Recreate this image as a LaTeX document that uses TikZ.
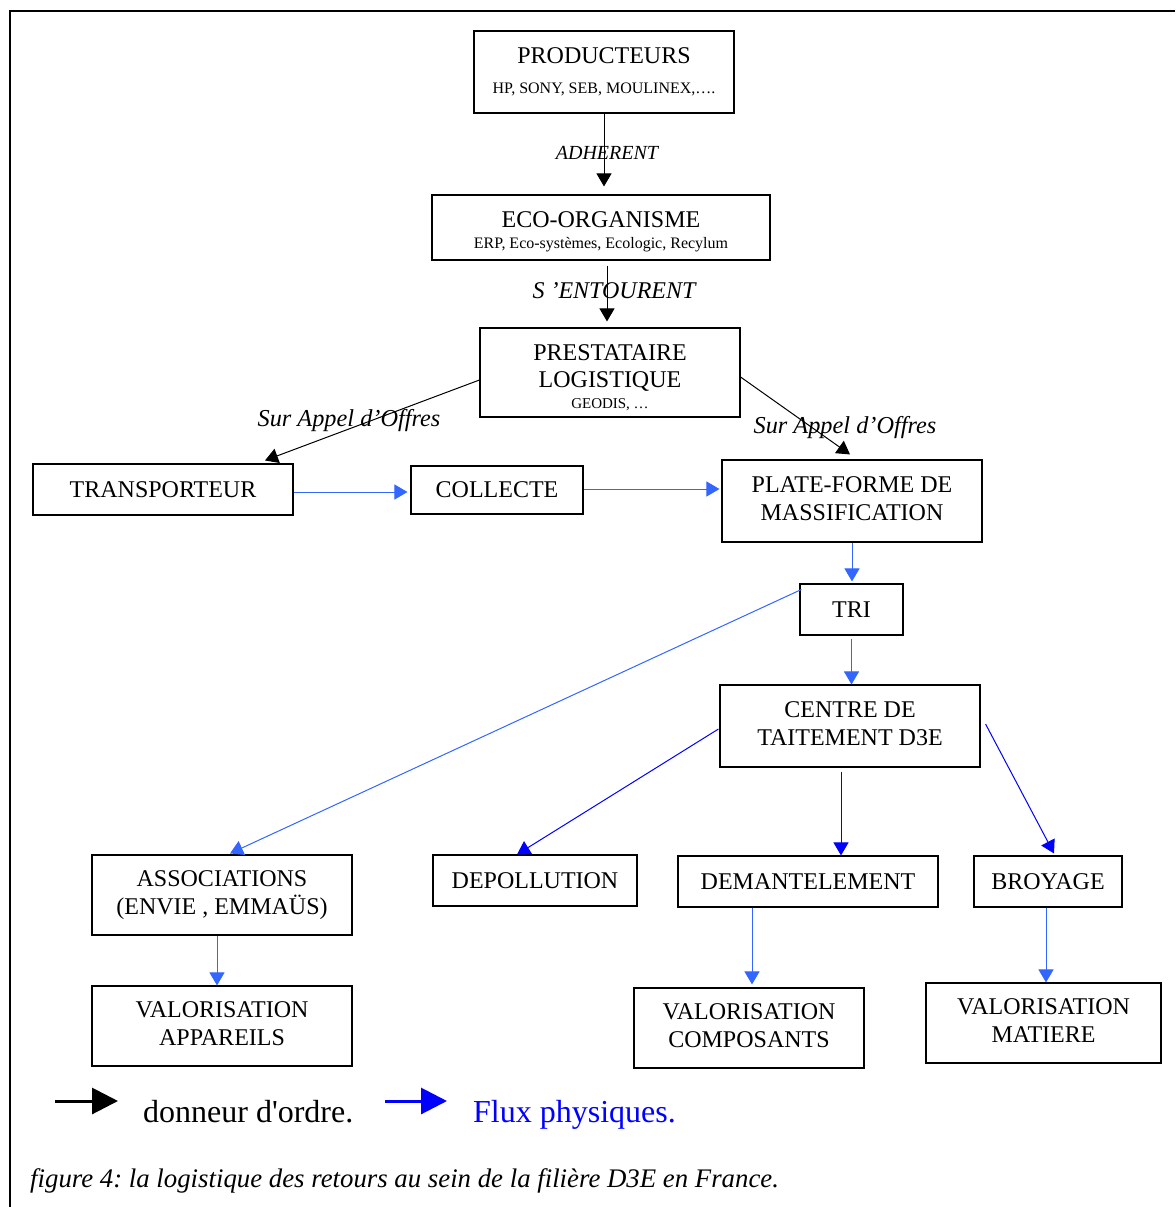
\documentclass[tikz,border=0pt]{standalone}
\usepackage{fontspec}
\setmainfont{Liberation Serif}[Ligatures=TeXOff]
\usetikzlibrary{arrows.meta,calc}
\definecolor{lblue}{HTML}{3366FF}
\definecolor{dblue}{HTML}{0000FF}
\frenchspacing
\tikzset{
  box/.style={draw, line width=1.1pt, inner sep=0pt, align=center, font=\fontsize{24}{27.5}\selectfont},
  twoline/.style={text depth=5pt},
  lab/.style={font=\itshape\fontsize{24.3}{26}\selectfont, inner sep=0pt},
  arrowbase/.style={line width=1pt, -{Triangle[length=13pt,width=15pt]}},
  blk/.style={arrowbase, color=black},
  lbl/.style={arrowbase, color=lblue},
  dbl/.style={arrowbase, color=dblue},
  legarrow/.style={line width=3pt, -{Triangle[length=26pt,width=26pt]}},
}
\begin{document}
\begin{tikzpicture}[x=1pt,y=-1pt]
\useasboundingbox (0,0) rectangle (1175,1207);
% frame
\draw[line width=2pt] (1175,11) -- (10,11) -- (10,1207);

% boxes
\node[box, minimum width=260, minimum height=82] (prod) at (604,72)
  {PRODUCTEURS\\[2.5pt]\fontsize{16}{18}\selectfont HP, SONY, SEB, MOULINEX,….};
\node[box, text depth=0pt, minimum width=338, minimum height=65] (eco) at (601,227.5)
  {\rule{0pt}{21pt}ECO-ORGANISME\\[-6pt]\fontsize{16}{18}\selectfont ERP, Eco-systèmes, Ecologic, Recylum};
\node[box, text depth=0pt, minimum width=260, minimum height=89] (prest) at (610,372.5)
  {\rule{0pt}{23pt}PRESTATAIRE\\LOGISTIQUE\\[-7pt]\fontsize{15}{17}\selectfont GEODIS, …};
\node[box, minimum width=260, minimum height=51] (trans) at (163,489.5) {TRANSPORTEUR};
\node[box, minimum width=172, minimum height=48] (coll) at (497,490) {COLLECTE};
\node[box, twoline, minimum width=260, minimum height=82] (plate) at (852,501) {PLATE-FORME DE\\MASSIFICATION};
\node[box, minimum width=103, minimum height=51] (tri) at (851.5,609.5) {TRI};
\node[box, twoline, minimum width=260, minimum height=82] (centre) at (850,726) {CENTRE DE\\TAITEMENT D3E};
\node[box, minimum width=260, minimum height=80] (assoc) at (222,895) {ASSOCIATIONS\\(ENVIE , EMMAÜS)};
\node[box, minimum width=204, minimum height=51] (depol) at (535,880.5) {DEPOLLUTION};
\node[box, minimum width=260, minimum height=51] (dem) at (808,881.5) {DEMANTELEMENT};
\node[box, minimum width=148, minimum height=51] (broy) at (1048,881.5) {BROYAGE};
\node[box, twoline, minimum width=260, minimum height=80] (valapp) at (222,1026) {VALORISATION\\APPAREILS};
\node[box, twoline, minimum width=230, minimum height=80] (valcomp) at (749,1028) {VALORISATION\\COMPOSANTS};
\node[box, twoline, minimum width=235, minimum height=80] (valmat) at (1043.5,1023) {VALORISATION\\MATIERE};

% black connectors
\draw[blk, shorten >=8pt] (prod.south) -- (prod.south |- eco.north);
\draw[blk, shorten <=5pt, shorten >=6pt] ([xshift=6pt]eco.south) -- ([xshift=6pt]eco.south |- prest.north);
\draw[blk] ([yshift=-7.5pt]prest.west) -- ([xshift=102pt,yshift=3pt]trans.north);
\draw[blk] ([yshift=-4.5pt]prest.east) -- ([xshift=-2pt,yshift=5pt]plate.north);

% labels
\node[lab, font=\itshape\fontsize{20}{22}\selectfont] (adh) at (607,153) {ADHERENT};
\node[lab, font=\itshape\fontsize{24}{26}\selectfont] (ent) at (614,291) {S ’ENTOURENT};
\node[lab] (sao1) at (349,421) {Sur Appel d’Offres};
\node[lab] (sao2) at (845,428) {Sur Appel d’Offres};

% blue connectors
\draw[lbl, shorten >=3pt] ([yshift=-2.5pt]trans.east) -- ([yshift=-2.5pt]trans.east -| coll.west);
\draw[lbl, shorten >=2pt] ([yshift=1pt]coll.east) -- ([yshift=1pt]coll.east -| plate.west);
\draw[lbl, shorten >=2pt] (plate.south) -- (plate.south |- tri.north);
\draw[lbl, shorten <=3pt] (tri.south) -- (tri.south |- centre.north);
\draw[lbl] ([xshift=2pt,yshift=-6pt]tri.north west) -- ([xshift=8pt,yshift=1pt]assoc.north);
\draw[dbl] ([xshift=-1pt,yshift=-3pt]centre.west) -- ([xshift=-18pt]depol.north);
\draw[dbl, shorten <=4pt] ([xshift=-9pt]centre.south) -- ([xshift=-9pt]centre.south |- dem.north);
\draw[dbl] ([xshift=5pt,yshift=2pt]centre.east) -- ([xshift=6pt,yshift=2pt]broy.north);
\draw[lbl] ([xshift=-5pt]assoc.south) -- ([xshift=-5pt]assoc.south |- valapp.north);
\draw[lbl, shorten >=3pt] ([xshift=-56pt]dem.south) -- ([xshift=-56pt]dem.south |- valcomp.north);
\draw[lbl] ([xshift=-2pt]broy.south) -- ([xshift=-2pt]broy.south |- valmat.north);

% legend
\coordinate (lk1) at (55,1101);
\coordinate (lk2) at (118,1101);
\coordinate (lb1) at (385,1101);
\coordinate (lb2) at (447,1101);
\draw[legarrow, color=black] (lk1) -- (lk2);
\draw[legarrow, color=dblue] (lb1) -- (lb2);
\node[anchor=base west, inner sep=0pt, font=\fontsize{32}{36}\selectfont] (lt1) at (143,1122) {donneur d'ordre.};
\node[anchor=base west, inner sep=0pt, text=dblue, font=\fontsize{32}{36}\selectfont] (lt2) at (473,1122) {Flux physiques.};

% caption
\node[anchor=base west, inner sep=0pt, font=\itshape\fontsize{26.8}{30}\selectfont] (cap) at (30,1187)
  {figure 4: la logistique des retours au sein de la filière D3E en France.};
\end{tikzpicture}
\end{document}
